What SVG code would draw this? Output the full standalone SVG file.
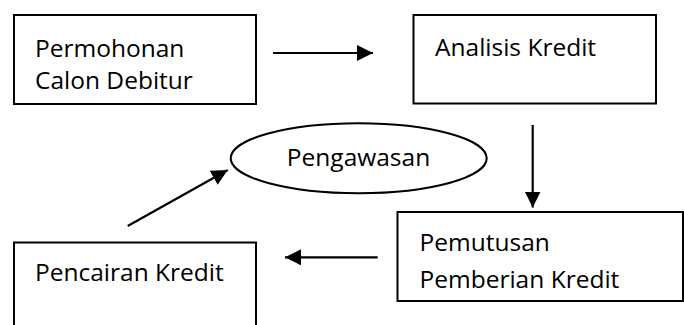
<svg xmlns="http://www.w3.org/2000/svg" width="684" height="325" viewBox="0 0 684 325">
<style>
.box{fill:#fff;stroke:#000;stroke-width:2}
.lbl{font-family:"Open Sans","Liberation Sans",sans-serif;font-size:24.5px;fill:#000}
.con{stroke:#000;stroke-width:2.2;fill:none}
</style>
<defs>
<marker id="ah" viewBox="0 0 16 16" refX="16" refY="8" markerWidth="16" markerHeight="16" markerUnits="userSpaceOnUse" orient="auto">
<path d="M0,0 L16,8 L0,16 Z" fill="#000"/>
</marker>
</defs>
<rect width="684" height="325" fill="#fff"/>
<g id="permohonan">
<rect class="box" x="14" y="15" width="242" height="89"/>
<text class="lbl" x="35" y="57">Permohonan</text>
<text class="lbl" x="35" y="88.5">Calon Debitur</text>
</g>
<g id="analisis">
<rect class="box" x="413.5" y="15" width="242.5" height="88.5"/>
<text class="lbl" x="435" y="56">Analisis Kredit</text>
</g>
<g id="pemutusan">
<rect class="box" x="397.5" y="212" width="285.5" height="89"/>
<text class="lbl" x="419.5" y="250.5">Pemutusan</text>
<text class="lbl" x="419.5" y="288">Pemberian Kredit</text>
</g>
<g id="pencairan">
<rect class="box" x="14" y="242.5" width="242" height="100"/>
<text class="lbl" x="35" y="281">Pencairan Kredit</text>
</g>
<g id="pengawasan">
<ellipse class="box" cx="358.7" cy="158.3" rx="128" ry="35"/>
<text class="lbl" x="358.5" y="166" text-anchor="middle">Pengawasan</text>
</g>
<g id="connectors">
<line class="con" x1="273" y1="53" x2="373" y2="53" marker-end="url(#ah)"/>
<line class="con" x1="532.7" y1="125" x2="532.7" y2="207.5" marker-end="url(#ah)"/>
<line class="con" x1="377.7" y1="257.3" x2="285" y2="257.3" marker-end="url(#ah)"/>
<line class="con" x1="127.7" y1="226" x2="227.7" y2="170" marker-end="url(#ah)"/>
</g>
</svg>
